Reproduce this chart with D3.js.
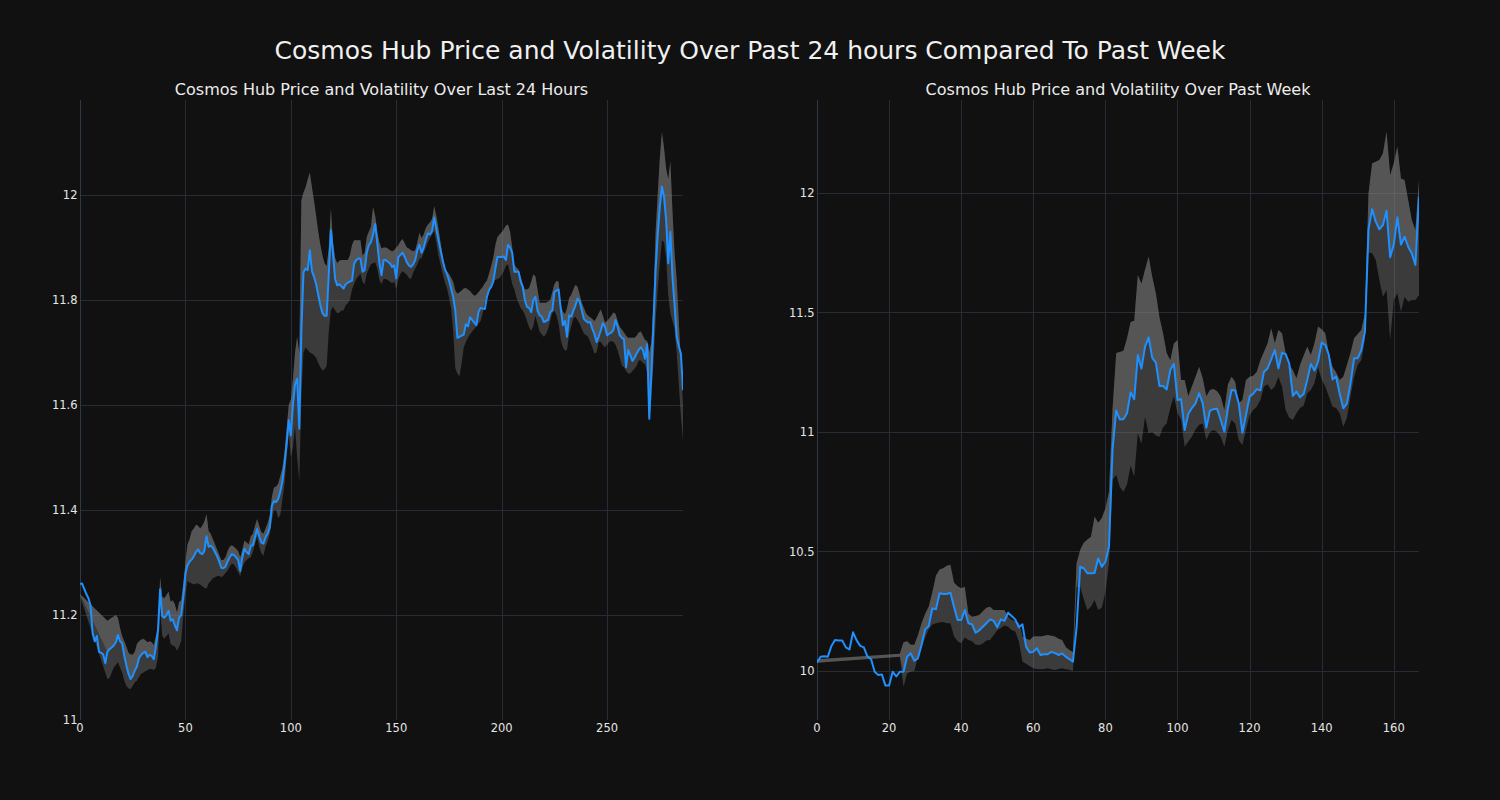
<!DOCTYPE html>
<html><head><meta charset="utf-8">
<script src="https://cdn.jsdelivr.net/npm/d3@7"></script>
<style>body{margin:0;background:#111111;} svg text{font-family:"DejaVu Sans",sans-serif;}</style>
</head><body><svg id="c" width="1500" height="800"></svg>
<script>
const mainTitle = "Cosmos Hub Price and Volatility Over Past 24 hours Compared To Past Week";
const dayTitle = "Cosmos Hub Price and Volatility Over Last 24 Hours";
const weekTitle = "Cosmos Hub Price and Volatility Over Past Week";

const dayXTicks = [0, 50, 100, 150, 200, 250];
const dayYTicks = [11, 11.2, 11.4, 11.6, 11.8, 12];
const weekXTicks = [0, 20, 40, 60, 80, 100, 120, 140, 160];
const weekYTicks = [10, 10.5, 11, 11.5, 12];

const dayPrice = [
11.259,11.26,11.25,11.24,11.232,11.218,11.165,11.15,11.16,11.13,
11.128,11.125,11.108,11.13,11.135,11.138,11.142,11.148,11.162,11.15,
11.146,11.122,11.104,11.088,11.078,11.084,11.094,11.102,11.118,11.124,
11.128,11.13,11.12,11.124,11.122,11.116,11.14,11.172,11.249,11.198,
11.195,11.2,11.208,11.189,11.192,11.18,11.171,11.195,11.2,11.235,
11.278,11.295,11.302,11.306,11.312,11.32,11.325,11.318,11.316,11.322,
11.35,11.33,11.332,11.328,11.32,11.312,11.302,11.29,11.289,11.292,
11.302,11.31,11.316,11.314,11.31,11.305,11.284,11.31,11.326,11.32,
11.316,11.332,11.333,11.348,11.364,11.35,11.338,11.336,11.348,11.355,
11.367,11.408,11.417,11.415,11.421,11.435,11.455,11.488,11.526,11.571,
11.542,11.6,11.64,11.65,11.555,11.742,11.853,11.86,11.857,11.895,
11.855,11.844,11.83,11.81,11.79,11.775,11.77,11.77,11.85,11.933,
11.889,11.84,11.828,11.83,11.826,11.822,11.83,11.833,11.835,11.837,
11.869,11.876,11.879,11.879,11.854,11.857,11.89,11.905,11.91,11.925,
11.945,11.908,11.87,11.847,11.876,11.876,11.873,11.87,11.863,11.866,
11.841,11.882,11.886,11.89,11.882,11.872,11.866,11.863,11.868,11.876,
11.895,11.905,11.89,11.9,11.915,11.927,11.925,11.932,11.957,11.935,
11.915,11.895,11.876,11.86,11.85,11.838,11.822,11.805,11.78,11.728,
11.73,11.732,11.734,11.754,11.75,11.767,11.762,11.757,11.752,11.777,
11.785,11.784,11.783,11.806,11.819,11.825,11.835,11.86,11.882,11.882,
11.882,11.883,11.876,11.905,11.9,11.89,11.854,11.854,11.854,11.835,
11.825,11.8,11.787,11.785,11.777,11.8,11.806,11.78,11.771,11.768,
11.758,11.76,11.762,11.777,11.78,11.815,11.818,11.82,11.784,11.752,
11.76,11.73,11.771,11.768,11.78,11.79,11.803,11.797,11.78,11.764,
11.76,11.757,11.758,11.745,11.735,11.72,11.73,11.742,11.756,11.749,
11.733,11.736,11.738,11.743,11.762,11.749,11.733,11.728,11.725,11.672,
11.705,11.695,11.684,11.69,11.698,11.705,11.71,11.704,11.688,11.716,
11.574,11.66,11.755,11.857,11.924,11.978,12.016,11.997,11.952,11.87,
11.93,11.844,11.79,11.73,11.712,11.698,11.628];

const dayUpper = [
11.24,null,null,null,null,null,null,null,null,null,
null,null,null,11.189,11.192,11.195,11.197,11.2,11.195,11.175,
11.16,11.15,11.14,11.128,11.125,11.125,11.13,11.145,11.15,11.153,
11.155,11.152,11.148,11.15,11.148,11.143,11.16,11.175,11.272,11.235,
11.232,11.238,11.245,11.225,11.228,11.22,11.205,11.225,11.228,11.26,
11.3,11.335,11.345,11.36,11.365,11.372,11.37,11.365,11.37,11.378,
11.392,11.36,11.355,11.345,11.335,11.325,11.315,11.305,11.305,11.31,
11.322,11.33,11.333,11.33,11.326,11.322,11.31,11.325,11.342,11.338,
11.335,11.35,11.355,11.37,11.383,11.37,11.358,11.355,11.365,11.375,
11.39,11.425,11.443,11.445,11.45,11.465,11.48,11.51,11.555,11.6,
11.61,11.65,11.7,11.73,11.7,11.99,12.005,12.015,12.03,12.043,
12.015,11.989,11.96,11.93,11.905,11.885,11.87,11.865,11.9,11.975,
11.91,11.88,11.87,11.875,11.876,11.876,11.876,11.876,11.885,11.905,
11.914,11.914,11.914,11.914,11.885,11.89,11.92,11.93,11.94,11.977,
11.96,11.93,11.91,11.898,11.9,11.9,11.898,11.895,11.893,11.895,
11.9,11.905,11.912,11.916,11.908,11.9,11.898,11.895,11.893,11.895,
11.91,11.928,11.918,11.925,11.937,11.944,11.948,11.955,11.979,11.96,
11.937,11.91,11.885,11.861,11.855,11.85,11.843,11.835,11.818,11.812,
11.815,11.818,11.822,11.823,11.82,11.817,11.812,11.808,11.81,11.815,
11.82,11.825,11.832,11.837,11.85,11.865,11.88,11.905,11.92,11.925,
11.929,11.935,11.942,11.944,11.93,11.9,11.867,11.862,11.858,11.845,
11.83,11.82,11.82,11.823,11.835,11.849,11.845,11.82,11.795,11.795,
11.795,11.795,11.797,11.8,11.815,11.83,11.836,11.835,11.79,11.778,
11.773,11.785,11.804,11.81,11.82,11.829,11.825,11.81,11.795,11.785,
11.775,11.77,11.767,11.764,11.76,11.766,11.775,11.782,11.77,11.757,
11.76,11.765,11.77,11.776,11.774,11.76,11.749,11.744,11.738,11.732,
11.728,11.728,11.728,11.728,11.732,11.738,11.74,11.732,11.724,11.722,
11.7,11.72,11.8,11.93,12.0,12.07,12.12,12.09,12.05,12.03,
12.065,11.97,11.89,11.84,11.76,11.68,11.6];

const dayLower = [
11.236,null,null,null,null,null,null,null,null,null,
null,null,null,11.078,11.08,11.09,11.1,11.105,11.11,11.1,
11.09,11.075,11.065,11.06,11.059,11.065,11.072,11.075,11.082,11.088,
11.09,11.093,11.095,11.097,11.097,11.095,11.1,11.12,11.214,11.16,
11.155,11.16,11.165,11.145,11.142,11.14,11.132,11.14,11.15,11.2,
11.24,11.265,11.262,11.26,11.258,11.26,11.26,11.258,11.255,11.252,
11.25,11.26,11.265,11.27,11.272,11.274,11.275,11.272,11.275,11.28,
11.285,11.292,11.298,11.296,11.29,11.282,11.274,11.29,11.3,11.305,
11.308,11.31,11.32,11.335,11.35,11.33,11.318,11.313,11.33,11.34,
11.355,11.38,11.4,11.4,11.385,11.39,11.42,11.45,11.5,11.545,
11.5,11.52,11.56,11.5,11.455,11.62,11.7,11.71,11.705,11.7,
11.698,11.695,11.69,11.68,11.672,11.666,11.668,11.675,11.74,11.78,
11.787,11.78,11.775,11.776,11.78,11.78,11.79,11.794,11.8,11.82,
11.83,11.84,11.845,11.85,11.835,11.83,11.85,11.86,11.868,11.87,
11.872,11.86,11.838,11.83,11.84,11.84,11.838,11.835,11.832,11.835,
11.82,11.84,11.85,11.855,11.852,11.848,11.842,11.84,11.852,11.86,
11.868,11.878,11.88,11.89,11.9,11.91,11.918,11.925,11.931,11.91,
11.885,11.868,11.85,11.835,11.823,11.805,11.785,11.74,11.67,11.66,
11.655,11.68,11.709,11.72,11.728,11.735,11.74,11.745,11.75,11.755,
11.76,11.775,11.795,11.811,11.82,11.828,11.836,11.838,11.84,11.842,
11.848,11.855,11.865,11.868,11.85,11.83,11.82,11.805,11.795,11.785,
11.78,11.772,11.76,11.748,11.741,11.75,11.77,11.755,11.74,11.735,
11.73,11.735,11.745,11.76,11.775,11.78,11.77,11.755,11.725,11.71,
11.704,11.705,11.735,11.75,11.765,11.768,11.762,11.755,11.745,11.736,
11.733,11.73,11.72,11.71,11.698,11.7,11.72,11.72,11.714,11.71,
11.715,11.72,11.722,11.72,11.715,11.704,11.69,11.675,11.672,11.665,
11.66,11.66,11.665,11.669,11.675,11.685,11.685,11.68,11.678,11.66,
11.565,11.62,11.68,11.76,11.82,11.87,11.914,11.91,11.88,11.81,
11.775,11.76,11.745,11.7,11.64,11.58,11.532];

const weekPrice = [
10.035,10.06,10.062,10.06,10.105,10.13,10.128,10.128,10.099,10.09,
10.162,10.128,10.105,10.099,10.06,10.05,9.997,9.983,9.985,9.939,
9.939,9.997,9.977,9.997,9.997,10.06,10.074,10.043,10.053,10.109,
10.174,10.188,10.262,10.258,10.325,10.322,10.322,10.328,10.269,10.213,
10.213,10.255,10.2,10.195,10.16,10.17,10.185,10.2,10.216,10.21,
10.183,10.216,10.21,10.244,10.23,10.216,10.183,10.195,10.102,10.077,
10.08,10.095,10.067,10.07,10.07,10.08,10.075,10.067,10.073,10.06,
10.05,10.039,10.18,10.436,10.43,10.409,10.409,10.41,10.471,10.436,
10.457,10.52,10.93,11.09,11.053,11.053,11.078,11.165,11.137,11.322,
11.265,11.357,11.396,11.31,11.29,11.192,11.192,11.178,11.259,11.285,
11.134,11.137,11.008,11.075,11.1,11.12,11.162,11.12,11.018,11.089,
11.096,11.097,11.05,11.001,11.1,11.176,11.174,11.12,10.997,11.07,
11.148,11.16,11.179,11.174,11.252,11.266,11.304,11.343,11.266,11.331,
11.326,11.287,11.151,11.169,11.145,11.159,11.218,11.285,11.257,11.294,
11.374,11.364,11.322,11.22,11.232,11.16,11.099,11.12,11.204,11.308,
11.308,11.343,11.42,11.85,11.932,11.88,11.848,11.866,11.926,11.731,
11.784,11.898,11.784,11.817,11.775,11.747,11.699,11.984];

const weekUpper = [
10.049,null,null,null,null,null,null,null,null,null,
null,null,null,null,null,null,null,null,null,null,
null,null,null,10.072,10.12,10.125,10.11,10.11,10.15,10.2,
10.24,10.27,10.33,10.4,10.425,10.43,10.44,10.445,10.37,10.355,
10.346,10.353,10.24,10.227,10.23,10.234,10.25,10.265,10.269,10.255,
10.255,10.255,10.255,10.227,10.213,10.21,10.2,10.144,10.135,10.13,
10.144,10.145,10.144,10.148,10.151,10.148,10.144,10.135,10.13,10.1,
10.088,10.08,10.45,10.506,10.537,10.55,10.562,10.645,10.62,10.64,
10.68,10.75,11.1,11.33,11.335,11.34,11.392,11.46,11.465,11.657,
11.62,11.68,11.734,11.65,11.58,11.48,11.413,11.33,11.3,11.37,
11.385,11.218,11.218,11.15,11.19,11.231,11.273,11.225,11.15,11.176,
11.18,11.17,11.148,11.092,11.2,11.231,11.21,11.12,11.134,11.218,
11.231,11.235,11.252,11.3,11.336,11.371,11.434,11.371,11.427,11.413,
11.329,11.28,11.259,11.225,11.28,11.32,11.357,11.322,11.371,11.441,
11.43,11.413,11.329,11.273,11.25,11.218,11.231,11.28,11.33,11.392,
11.41,11.427,11.497,12.0,12.124,12.131,12.138,12.166,12.257,12.075,
12.124,12.194,12.061,12.054,11.971,11.887,11.845,12.054];

const weekLower = [
10.035,null,null,null,null,null,null,null,null,null,
null,null,null,null,null,null,null,null,null,null,
null,null,null,10.06,9.934,9.99,9.997,10.0,10.06,10.1,
10.14,10.175,10.195,10.2,10.203,10.205,10.2,10.2,10.145,10.125,
10.116,10.14,10.13,10.125,10.11,10.109,10.115,10.128,10.13,10.15,
10.17,10.18,10.19,10.185,10.172,10.165,10.123,10.039,10.03,10.02,
10.011,10.008,10.007,10.008,10.011,10.007,10.004,10.008,10.011,10.007,
10.005,10.0,10.35,10.353,10.3,10.255,10.269,10.297,10.255,10.265,
10.33,10.45,10.8,10.82,10.77,10.75,10.78,10.86,10.813,10.995,
10.95,11.064,10.995,11.0,10.985,10.98,11.02,11.036,11.1,11.15,
11.08,11.05,10.938,10.96,10.98,11.01,11.03,11.036,10.967,11.0,
11.008,11.0,10.98,10.938,11.008,11.05,11.036,10.967,10.946,11.008,
11.07,11.092,11.106,11.134,11.19,11.2,11.176,11.19,11.231,11.19,
11.092,11.06,11.05,11.078,11.1,11.11,11.162,11.176,11.204,11.27,
11.22,11.19,11.148,11.106,11.1,11.078,11.022,11.06,11.15,11.231,
11.28,11.301,11.385,11.75,11.748,11.72,11.636,11.566,11.594,11.385,
11.552,11.58,11.503,11.566,11.545,11.552,11.552,11.573];

const svg = d3.select("#c");
svg.append("rect").attr("width", 1500).attr("height", 800).attr("fill", "#111111");

svg.append("text").attr("x", 750).attr("y", 59).attr("text-anchor", "middle")
  .attr("font-size", "25px").attr("fill", "#f0f0f0").text(mainTitle);

function drawPanel(cfg, id) {
  const x = d3.scaleLinear().domain(cfg.xDomain).range([cfg.left, cfg.right]);
  const y = d3.scaleLinear().domain(cfg.yDomain).range([cfg.bottom, cfg.top]);
  const g = svg.append("g");

  g.append("clipPath").attr("id", "clip" + id).append("rect")
    .attr("x", cfg.left).attr("y", cfg.top)
    .attr("width", cfg.right - cfg.left).attr("height", cfg.bottom - cfg.top);

  g.selectAll(".vg").data(cfg.xTicks.filter(t => t !== cfg.xDomain[0])).enter().append("line")
    .attr("x1", d => Math.round(x(d)) + 0.5).attr("x2", d => Math.round(x(d)) + 0.5)
    .attr("y1", cfg.top).attr("y2", cfg.bottom)
    .attr("stroke", "#262d37").attr("stroke-width", 1);
  g.selectAll(".hg").data(cfg.yTicks.filter(t => y(t) < cfg.bottom - 1)).enter().append("line")
    .attr("y1", d => Math.round(y(d)) + 0.5).attr("y2", d => Math.round(y(d)) + 0.5)
    .attr("x1", cfg.left).attr("x2", cfg.right)
    .attr("stroke", "#262d37").attr("stroke-width", 1);
  g.append("line").attr("x1", cfg.left + 0.5).attr("x2", cfg.left + 0.5)
    .attr("y1", cfg.top).attr("y2", cfg.bottom)
    .attr("stroke", "#2f3845").attr("stroke-width", 1);

  const pg = g.append("g").attr("clip-path", `url(#clip${id})`);
  const bandPts = cfg.price.map((p, i) => ({ i, p, lo: cfg.lower[i], hi: cfg.upper[i] }))
    .filter(d => d.lo !== null && d.hi !== null);
  const area = d3.area().x(d => x(d.i)).y0(d => y(d.lo)).y1(d => y(d.hi));
  pg.append("path").datum(bandPts).attr("d", area)
    .attr("fill", "#808080").attr("fill-opacity", 0.38).attr("stroke", "none");
  // upper half of the band (price to upper) is layered a second time
  const upperArea = d3.area().x(d => x(d.i))
    .y0(d => y(Math.max(d.lo, Math.min(d.p, d.hi)))).y1(d => y(d.hi));
  pg.append("path").datum(bandPts).attr("d", upperArea)
    .attr("fill", "#808080").attr("fill-opacity", 0.38).attr("stroke", "none");

  const line = d3.line().x((d, i) => x(i)).y(d => y(d));
  pg.append("path").datum(cfg.price).attr("d", line)
    .attr("fill", "none").attr("stroke", "#1e90ff").attr("stroke-width", 2)
    .attr("stroke-linejoin", "round");

  g.selectAll(".xl").data(cfg.xTicks).enter().append("text")
    .attr("x", d => x(d)).attr("y", cfg.bottom + 12).attr("text-anchor", "middle")
    .attr("font-size", "11.5px").attr("fill", "#e6e6e6").text(d => d3.format("~g")(d));
  g.selectAll(".yl").data(cfg.yTicks).enter().append("text")
    .attr("x", cfg.left - 2.5).attr("y", d => y(d)).attr("dy", "0.35em").attr("text-anchor", "end")
    .attr("font-size", "11.5px").attr("fill", "#e6e6e6").text(d => d3.format("~g")(d));

  svg.append("text").attr("x", (cfg.left + cfg.right) / 2).attr("y", 94.5).attr("text-anchor", "middle")
    .attr("font-size", "16px").attr("fill", "#ececec").text(cfg.title);
}

drawPanel({
  left: 80, right: 683, top: 100, bottom: 720,
  xDomain: [0, 286], yDomain: [11.0, 12.181],
  xTicks: dayXTicks, yTicks: dayYTicks,
  price: dayPrice, upper: dayUpper, lower: dayLower, title: dayTitle
}, 0);

drawPanel({
  left: 817, right: 1419, top: 100, bottom: 720,
  xDomain: [0, 167], yDomain: [9.795, 12.389],
  xTicks: weekXTicks, yTicks: weekYTicks,
  price: weekPrice, upper: weekUpper, lower: weekLower, title: weekTitle
}, 1);
</script></body></html>
